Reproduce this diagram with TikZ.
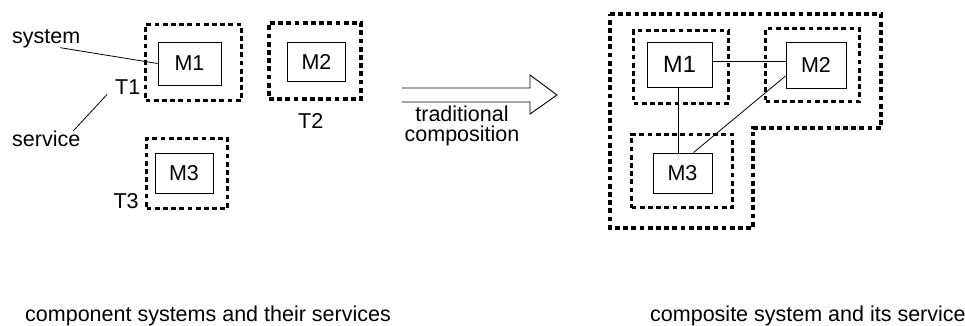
\documentclass[tikz,border=0pt]{standalone}
\usepackage{fontspec}
\setmainfont{Liberation Sans}
\usepackage{tkz-euclide}
\usetikzlibrary{calc}

\tikzset{
  txt/.style={inner sep=0pt,font=\fontsize{21.5}{16}\selectfont},
  sysbox/.style={draw,line width=0.9pt,inner sep=0pt,txt},
  srvbox/.style={draw,line width=3.8pt,line cap=butt,dash pattern=on 4.8pt off 3.4pt,inner sep=0pt},
  srvline/.style={line width=3.8pt,line cap=butt,line join=miter,dash pattern=on 4.8pt off 3.4pt,color=black},
  link/.style={line width=0.8pt}
}

\begin{document}
\begin{tikzpicture}[x=1pt,y=-1pt]
\useasboundingbox (0,0) rectangle (965,325);

% component systems
\node[srvbox,minimum width=96pt,minimum height=76pt] (T1s) at (193.5,62.5) {};
\node[srvbox,minimum width=92pt,minimum height=76pt] (T2s) at (315,61) {};
\node[srvbox,minimum width=81pt,minimum height=70pt] (T3s) at (187,173.5) {};

\node[sysbox,minimum width=63pt,minimum height=43pt] (M1) at (189.5,63.5) {M1};
\node[sysbox,minimum width=58pt,minimum height=39pt] (M2) at (316.5,61.5) {M2};
\node[sysbox,minimum width=58pt,minimum height=40pt] (M3) at (184,173) {M3};

\node[txt,anchor=base west] (T1) at (115,94.3) {T1};
\node[txt,anchor=base west] (T2) at (298,128.3) {T2};
\node[txt,anchor=base west] (T3) at (113.3,208.3) {T3};

\node[txt,anchor=base west] (sys) at (12,43) {system};
\node[txt,anchor=base west] (srv) at (12,146.7) {service};

\draw[link] ([xshift=14pt]sys.south) -- (M1.west);
\draw[link] ([xshift=27pt]srv.north) -- ([xshift=-8pt]T1.south west);

% the arrow
\tkzDefPoints{402/88/a1,530/88/a2,530/75/a3,557/95/a4,530/114/a5,530/102/a6,402/102/a7}
\tkzDrawPolySeg[line width=0.9pt,color=black](a1,a2,a3,a4,a5,a6,a7)
\node[txt,align=center,anchor=base,font=\fontsize{21.5}{19.5}\selectfont] (trad) at (462,141) {traditional\\composition};

% composite system
\tkzDefPoints{610/14/O1,881/14/O2,881/128/O3,753/128/O4,753/228/O5,610/228/O6}
\tkzDrawPolygon[srvline](O1,O2,O3,O4,O5,O6)

\node[srvbox,minimum width=95pt,minimum height=73pt] (T1c) at (681,67) {};
\node[srvbox,minimum width=94pt,minimum height=73pt] (T2c) at (812.5,65) {};
\node[srvbox,minimum width=101pt,minimum height=73pt] (T3c) at (682,171) {};

\node[sysbox,minimum width=65pt,minimum height=45pt,font=\fontsize{23.5}{24}\selectfont] (M1c) at (679.5,64.5) {M1};
\node[sysbox,minimum width=60pt,minimum height=46pt] (M2c) at (816,65) {M2};
\node[sysbox,minimum width=59pt,minimum height=40pt] (M3c) at (682.5,173) {M3};

\draw[link] ([yshift=3pt]M1c.east) -- ([yshift=3pt]M1c.east -| M2c.west);
\draw[link] ([xshift=-1.5pt]M1c.south) -- ([xshift=-1.5pt]M1c.south |- M3c.north);
\draw[link] ([yshift=-11pt]M2c.west) -- ([xshift=11pt]M3c.north);

\node[txt,anchor=base west] (capA) at (25,321.7) {component systems and their services};
\node[txt,anchor=base west] (capB) at (650,321.7) {composite system and its service};

\end{tikzpicture}
\end{document}
